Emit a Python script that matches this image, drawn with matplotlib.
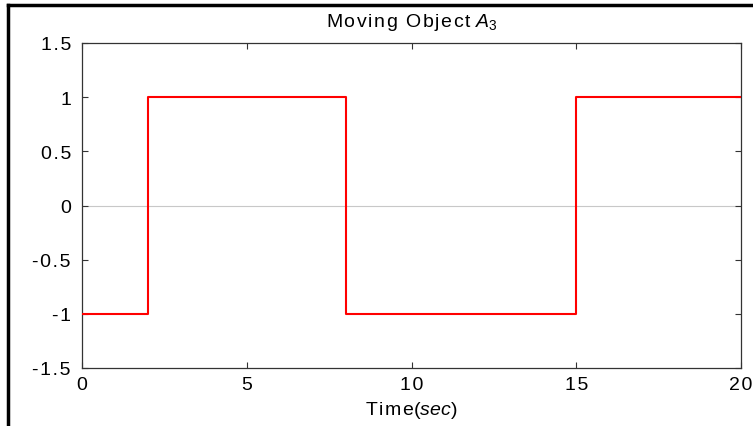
import matplotlib.pyplot as plt
from matplotlib.lines import Line2D

plt.rcParams['font.family'] = ['Liberation Sans', 'DejaVu Sans']
plt.rcParams['mathtext.fontset'] = 'custom'
plt.rcParams['mathtext.it'] = 'Liberation Sans:italic'
plt.rcParams['mathtext.rm'] = 'Liberation Sans'

# switching times and levels of object A3
t_switch = [0, 2, 8, 15, 20]
level = [-1, 1, -1, 1, 1]

xticks = [0, 5, 10, 15, 20]
xtick_labels = ['0', '5', '10', '15', '20']
yticks = [-1.5, -1, -0.5, 0, 0.5, 1, 1.5]
ytick_labels = ['-1.5', '-1', '-0.5', '0', '0.5', '1', '1.5']


def spaced(s):
    # the original export has wide letter spacing
    return '\u200a'.join(s)


fig = plt.figure(figsize=(7.53, 4.27), dpi=100)
ax = fig.add_axes([82 / 753, 1 - 369 / 427, (741 - 82) / 753, (369 - 44) / 427])

ax.axhline(0, color='#c8c8c8', lw=0.8, zorder=1)
ax.step(t_switch, level, where='post', color='red', lw=1.5, zorder=3)

ax.set_xlim(0, 20)
ax.set_ylim(-1.5, 1.5)
ax.set_xticks(xticks)
ax.set_xticklabels([spaced(s) for s in xtick_labels])
ax.set_yticks(yticks)
ax.set_yticklabels([spaced(s) for s in ytick_labels])
ax.tick_params(direction='in', top=True, right=True, labelsize=14,
               length=4, width=0.8, color='#333333')
ax.tick_params(axis='y', pad=8)
ax.tick_params(axis='x', pad=6)
for s in ax.spines.values():
    s.set_color('#333333')
    s.set_linewidth(0.9)

ax.set_title(spaced('Moving Object') + r' $A_3$', fontsize=14, pad=12)
ax.set_xlabel(spaced('Time') + r'$(sec)$', fontsize=14, labelpad=4)

# partial frame around the figure (top and left edges)
fig.add_artist(Line2D([8 / 753, 1], [1 - 6 / 427, 1 - 6 / 427], color='black', lw=2.5,
                      transform=fig.transFigure))
fig.add_artist(Line2D([8 / 753, 8 / 753], [0, 1 - 6 / 427], color='black', lw=2.5,
                      transform=fig.transFigure))

fig.savefig('out.png', dpi=100)
